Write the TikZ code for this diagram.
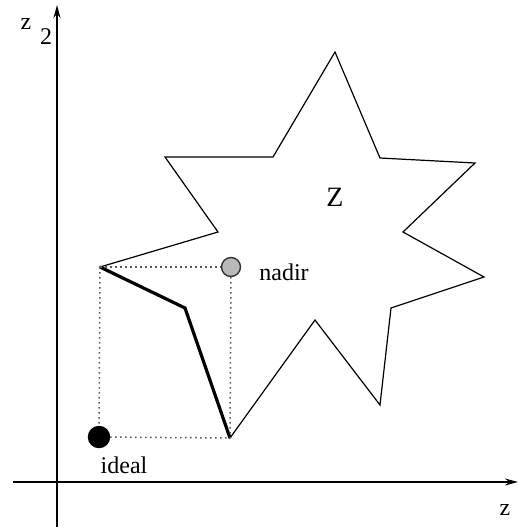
\documentclass[tikz,border=0pt]{standalone}
\usepackage{fontspec}
\setmainfont{Liberation Serif}
\usetikzlibrary{arrows.meta,positioning}

\begin{document}
\begin{tikzpicture}[x=1pt,y=-1pt,
  axis/.style={line width=1.5pt,-{Stealth[length=13pt,width=7pt]}},
  starline/.style={line width=1.2pt,line join=miter},
  front/.style={line width=3.2pt,line join=round},
  guide/.style={line width=1.5pt,gray!70!black,dash pattern=on 1.5pt off 3.5pt},
  point/.style={circle,draw,line width=1.4pt,minimum size=19pt,inner sep=0pt},
  lbl/.style={font=\fontsize{24}{28}\selectfont}
]
\useasboundingbox (0,0) rectangle (519,531);
% axes
\coordinate (ybot) at (57,527);
\coordinate (ytop) at (57,5);
\coordinate (xlft) at (13,482);
\coordinate (xrgt) at (518,482);
\draw[axis] (ybot) -- (ytop);
\draw[axis] (xlft) -- (xrgt);
\node[lbl] (zname) at (26,24) {z};
\node[lbl] (ztwo) at (46,37) {2};
\node[lbl] (zone) at (505,510) {z};
% star shaped set
\coordinate (s1) at (335,52);
\coordinate (s2) at (380,158);
\coordinate (s3) at (475,163);
\coordinate (s4) at (403,232);
\coordinate (s5) at (484,277);
\coordinate (s6) at (391,308);
\coordinate (s7) at (380,405);
\coordinate (s8) at (315,320);
\coordinate (fb) at (230,438);
\coordinate (fk) at (185,308);
\coordinate (fa) at (100,267);
\coordinate (s12) at (218,232);
\coordinate (s13) at (165,157);
\coordinate (s14) at (273,157);
\draw[starline] (s1) -- (s2) -- (s3) -- (s4) -- (s5) -- (s6) -- (s7)
  -- (s8) -- (fb) -- (fk) -- (fa) -- (s12) -- (s13) -- (s14) -- cycle;
\node[font=\fontsize{28}{32}\selectfont] (setz) at (335,197) {Z};
% pareto front
\draw[front] (fa) -- (fk) -- (fb);
% ideal and nadir
\node[point,fill=gray!55,draw=gray!40!black] (nadir) at (231,267) {};
\node[point,fill=black,minimum size=21pt] (ideal) at (99,437) {};
\draw[guide] (fa) -- (nadir);
\draw[guide] (nadir) -- (fb);
\draw[guide] (ideal) -- (fb);
\draw[guide] (fa) -- (ideal);
\node[lbl] (nadirtxt) at (284,272) {nadir};
\node[lbl] (idealtxt) at (124,465) {ideal};
\end{tikzpicture}
\end{document}
